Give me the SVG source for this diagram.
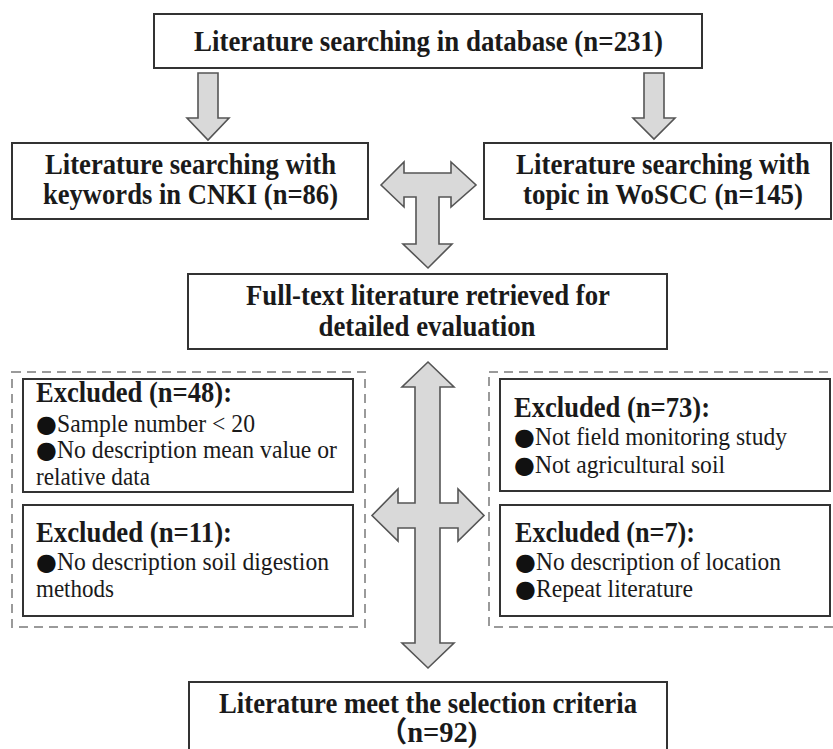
<svg xmlns="http://www.w3.org/2000/svg" width="833" height="749" viewBox="0 0 833 749">
<style>
.box{fill:#fff;stroke:#333;stroke-width:2}
.dash{fill:none;stroke:#9a9a9a;stroke-width:2;stroke-dasharray:9 6}
.arr{fill:#d9d9d9;stroke:#555;stroke-width:1.6;stroke-linejoin:miter}
.b{font-family:"Liberation Serif","Times New Roman",serif;font-weight:bold;font-size:28.5px;fill:#1a1a1a}
.c{text-anchor:middle}
.r{font-family:"Liberation Serif","Times New Roman",serif;font-size:25px;fill:#1a1a1a}
.bul{font-family:"DejaVu Sans",sans-serif;font-size:24px;fill:#111}
</style>
<rect width="833" height="749" fill="#fff"/>
<g id="connectors">
<polygon class="arr" points="198,73 218,73 218,118 229,118 208,140 187,118 198,118"/>
<polygon class="arr" points="644,73 664,73 664,118 675,118 654,139 633,118 644,118"/>
<polygon class="arr" points="381,185 404,162 404,173 451,173 451,162 476,185 451,207 451,197 439,197 439,244 452,244 428,268 403,244 416,244 416,197 404,197 404,207"/>
<polygon class="arr" points="428,362 454,387 440,387 440,503 458,503 458,489 484,515.5 458,541 458,528 440,528 440,643 454,643 428,668 402,643 415,643 415,528 398,528 398,541 372,515.5 398,489 398,503 415,503 415,387 402,387"/>
</g>
<g id="group-left"><rect class="dash" x="12" y="372" width="353" height="255"/></g>
<g id="group-right"><rect class="dash" x="489" y="372" width="352" height="255"/></g>
<g id="n-database">
<rect class="box" x="154" y="14" width="548" height="54"/>
<text class="b c" x="428.5" y="51" textLength="469" lengthAdjust="spacingAndGlyphs">Literature searching in database (n=231)</text>
</g>
<g id="n-cnki">
<rect class="box" x="12" y="143" width="356" height="76"/>
<text class="b c" x="190.5" y="174" textLength="291" lengthAdjust="spacingAndGlyphs">Literature searching with</text>
<text class="b c" x="190.5" y="204" textLength="295" lengthAdjust="spacingAndGlyphs">keywords in CNKI (n=86)</text>
</g>
<g id="n-woscc">
<rect class="box" x="484" y="143" width="347" height="76"/>
<text class="b c" x="663" y="174" textLength="294" lengthAdjust="spacingAndGlyphs">Literature searching with</text>
<text class="b c" x="663" y="204" textLength="280" lengthAdjust="spacingAndGlyphs">topic in WoSCC (n=145)</text>
</g>
<g id="n-fulltext">
<rect class="box" x="188" y="274" width="479" height="75"/>
<text class="b c" x="428" y="305" textLength="364" lengthAdjust="spacingAndGlyphs">Full-text literature retrieved for</text>
<text class="b c" x="427" y="336" textLength="217" lengthAdjust="spacingAndGlyphs">detailed evaluation</text>
</g>
<g id="n-ex48">
<rect class="box" x="23" y="379" width="330" height="113"/>
<text class="b" x="36" y="402" textLength="196" lengthAdjust="spacingAndGlyphs">Excluded (n=48):</text>
<text class="bul" x="36" y="432">●</text>
<text class="r" x="57" y="432" textLength="198" lengthAdjust="spacingAndGlyphs">Sample number &lt; 20</text>
<text class="bul" x="36" y="458">●</text>
<text class="r" x="57" y="458" textLength="280" lengthAdjust="spacingAndGlyphs">No description mean value or</text>
<text class="r" x="36" y="485" textLength="114" lengthAdjust="spacingAndGlyphs">relative data</text>
</g>
<g id="n-ex11">
<rect class="box" x="23" y="505" width="330" height="111"/>
<text class="b" x="36" y="542" textLength="196" lengthAdjust="spacingAndGlyphs">Excluded (n=11):</text>
<text class="bul" x="36" y="570">●</text>
<text class="r" x="57" y="570" textLength="272" lengthAdjust="spacingAndGlyphs">No description soil digestion</text>
<text class="r" x="36" y="597" textLength="78" lengthAdjust="spacingAndGlyphs">methods</text>
</g>
<g id="n-ex73">
<rect class="box" x="500" y="379" width="330" height="112"/>
<text class="b" x="514" y="417" textLength="196" lengthAdjust="spacingAndGlyphs">Excluded (n=73):</text>
<text class="bul" x="514" y="445">●</text>
<text class="r" x="535" y="445" textLength="252" lengthAdjust="spacingAndGlyphs">Not field monitoring study</text>
<text class="bul" x="514" y="473">●</text>
<text class="r" x="535" y="473" textLength="190" lengthAdjust="spacingAndGlyphs">Not agricultural soil</text>
</g>
<g id="n-ex7">
<rect class="box" x="500" y="505" width="330" height="111"/>
<text class="b" x="515" y="542" textLength="180" lengthAdjust="spacingAndGlyphs">Excluded (n=7):</text>
<text class="bul" x="515" y="570">●</text>
<text class="r" x="536" y="570" textLength="245" lengthAdjust="spacingAndGlyphs">No description of location</text>
<text class="bul" x="515" y="597">●</text>
<text class="r" x="536" y="597" textLength="157" lengthAdjust="spacingAndGlyphs">Repeat literature</text>
</g>
<g id="n-final">
<rect class="box" x="189" y="682" width="478" height="80"/>
<text class="b c" x="428" y="713" textLength="418" lengthAdjust="spacingAndGlyphs">Literature meet the selection criteria</text>
<text class="b c" x="428" y="742" style="font-family:'Liberation Serif','Noto Sans CJK SC',serif">（n=92)</text>
</g>
</svg>
